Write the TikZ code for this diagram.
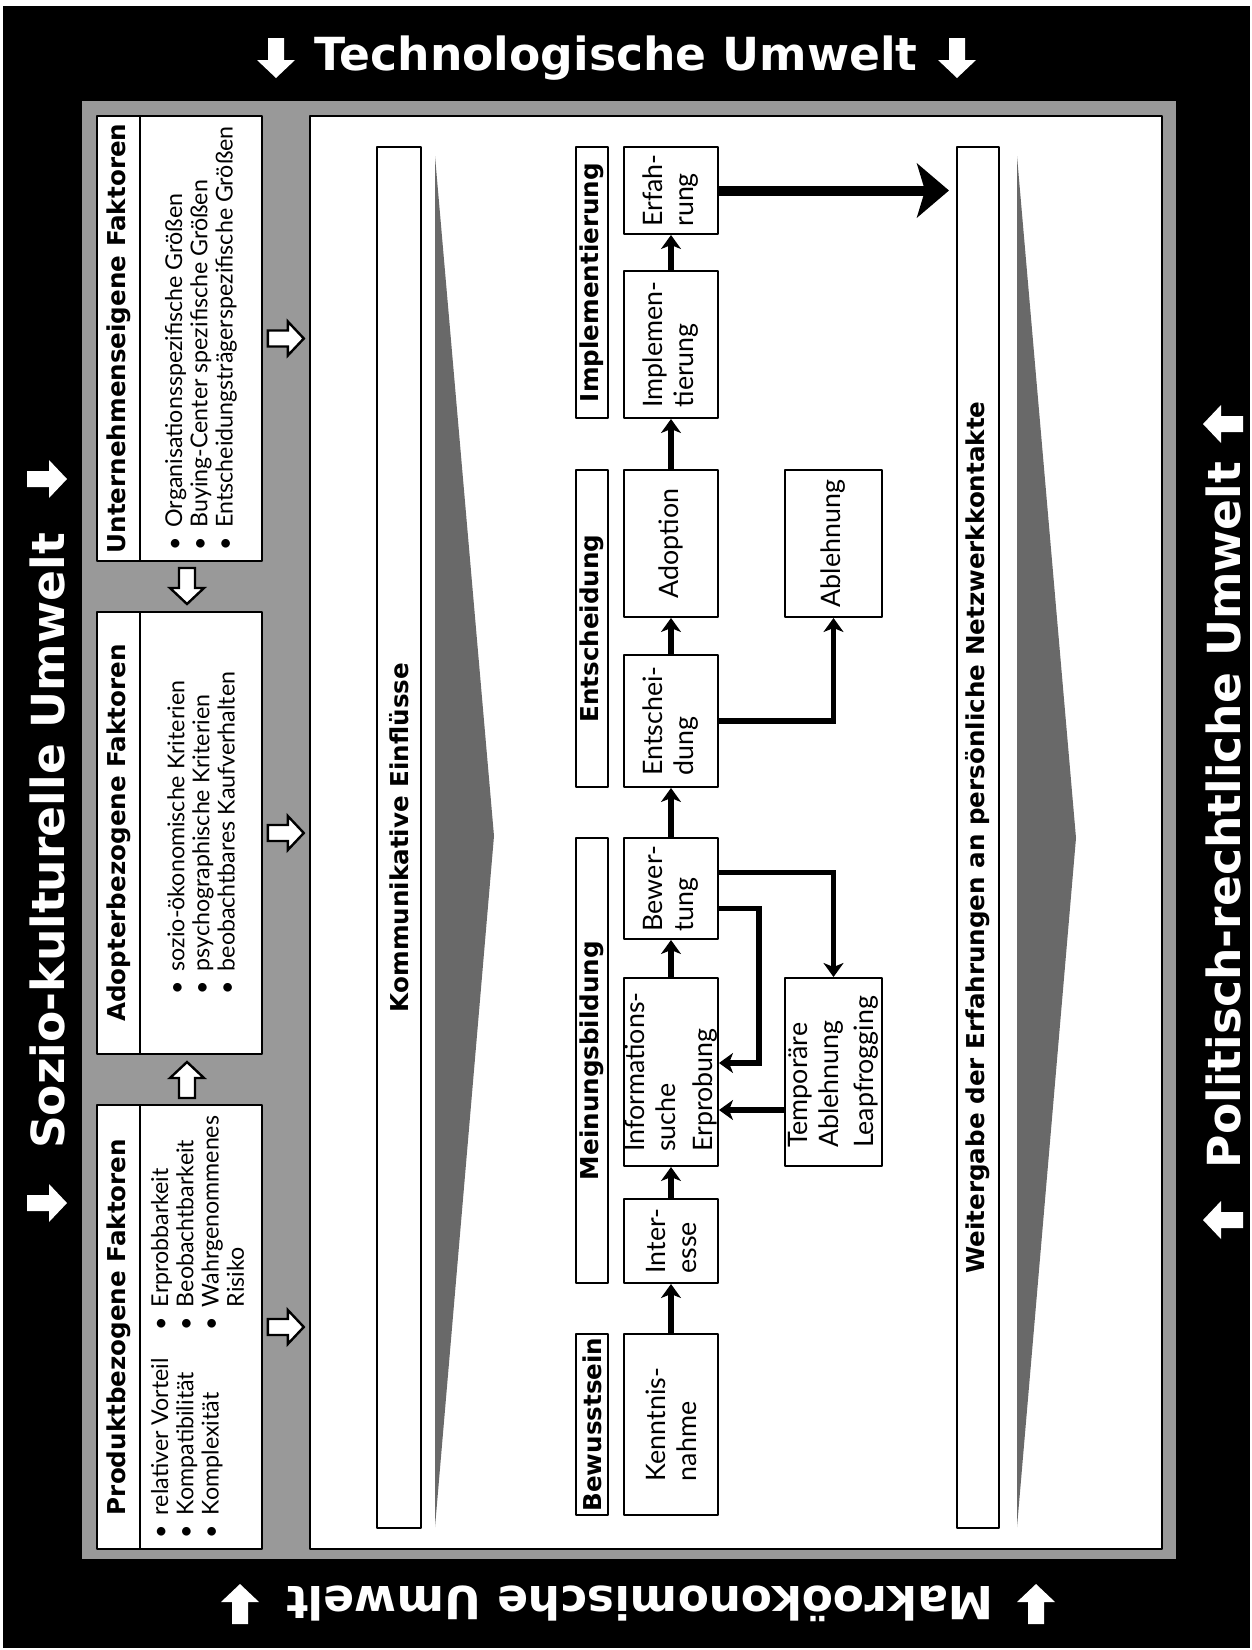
\documentclass[tikz,border=0pt]{standalone}
\usepackage{fontspec}
\setmainfont{Lato}
\newfontfamily\headfont{DejaVu Sans}
\usetikzlibrary{arrows.meta,fit,calc}

\definecolor{panelgray}{RGB}{153,153,153}
\definecolor{wedgegray}{RGB}{105,105,105}

\newcommand{\itm}{\makebox[1em][l]{\textbullet}}

\tikzset{
  openarrow/.pic={\draw[line width=1.2pt,fill=white,line join=miter]
    (-18,-8)--(2,-8)--(2,-17)--(18,0)--(2,17)--(2,8)--(-18,8)--cycle;},
  whitearrow/.pic={\fill[white]
    (-20,-8)--(2,-8)--(2,-19)--(20,0)--(2,19)--(2,8)--(-20,8)--cycle;},
}

\begin{document}
\begin{tikzpicture}[x=0.5pt,y=-0.5pt,line join=round,
  box/.style={draw,line width=1pt,fill=white,inner sep=0pt},
  vtext/.style={rotate=90,inner sep=0pt,align=left},
  headtext/.style={vtext,font=\headfont\bfseries\fontsize{12.3}{14}\selectfont},
  steptext/.style={vtext,font=\fontsize{13.4}{15.5}\selectfont},
  listtext/.style={vtext,font=\fontsize{11.6}{12.6}\selectfont},
  frametext/.style={inner sep=0pt,text=white,font=\headfont\bfseries\fontsize{22.8}{27}\selectfont},
  flow/.style={line width=2.6pt,line join=miter,-{Stealth[length=7pt,width=10pt,inset=2pt]}},
  bigflow/.style={line width=5pt,-{Stealth[length=16pt,width=27pt,inset=4pt]}}]
\useasboundingbox (0,0) rectangle (1252,1650);
\fill[black] (3,6) rectangle (1250,1648);
\fill[panelgray] (82,101) rectangle (1176,1559);

% Umwelten
\node[frametext] (technik) at (616,58) {Technologische Umwelt};
\node[frametext,rotate=90] (sozio) at (47,841) {Sozio-kulturelle Umwelt};
\node[frametext,rotate=90] (politik) at (1223,815) {Politisch-rechtliche Umwelt};
\node[frametext,rotate=180] (makro) at (640,1604) {Makroökonomische Umwelt};
\pic[rotate=-90] at (276,58) {whitearrow};
\pic[rotate=-90] at (957,58) {whitearrow};
\pic at (47,479) {whitearrow};
\pic at (47,1203) {whitearrow};
\pic[rotate=180] at (1223,424) {whitearrow};
\pic[rotate=180] at (1223,1220) {whitearrow};
\pic[rotate=90] at (240,1604) {whitearrow};
\pic[rotate=90] at (1036,1604) {whitearrow};

% Einflussfaktoren
\node[box,fit={(97,116) (140,561)}] (untern-head) {};
\node[box,fit={(140,116) (262,561)}] (untern) {};
\node[headtext] (untern-title) at (untern-head) {Unternehmenseigene Faktoren};
\node[listtext] (untern-list) at (untern) {\itm Organisationsspezifische Größen\\\itm Buying-Center spezifische Größen\\\itm Entscheidungsträgerspezifische Größen};
\node[box,fit={(97,612) (140,1054)}] (adopt-head) {};
\node[box,fit={(140,612) (262,1054)}] (adopt) {};
\node[headtext] (adopt-title) at (adopt-head) {Adopterbezogene Faktoren};
\node[listtext] (adopt-list) at (adopt) {\itm sozio-ökonomische Kriterien\\\itm psychographische Kriterien\\\itm beobachtbares Kaufverhalten};
\node[box,fit={(97,1105) (140,1549)}] (produkt-head) {};
\node[box,fit={(140,1105) (262,1549)}] (produkt) {};
\node[headtext] (produkt-title) at (produkt-head) {Produktbezogene Faktoren};
\node[listtext] (produkt-list) at (produkt) {\begin{tabular}{@{}l@{\hspace{14pt}}l@{}}
  \itm relativer Vorteil & \itm Erprobbarkeit\\
  \itm Kompatibilität & \itm Beobachtbarkeit\\
  \itm Komplexität & \itm Wahrgenommenes\\
  & \hspace{1em}Risiko\end{tabular}};
\pic[rotate=-90] at (187,586) {openarrow};
\pic[rotate=90] at (187,1080) {openarrow};

% Adoptionsprozess
\node[box,line width=1.4pt,fit={(310,116) (1162,1549)}] (panel) {};
\pic at ($(untern.east)!.5!(panel.west |- untern.east)$) {openarrow};
\pic at ($(adopt.east)!.5!(panel.west |- adopt.east)$) {openarrow};
\pic at ($(produkt.east)!.5!(panel.west |- produkt.east)$) {openarrow};

\node[box,fit={(377,147) (421,1528)}] (kommbar) {};
\node[headtext] (komm-title) at (kommbar) {Kommunikative Einflüsse};
\fill[wedgegray] (435,156) -- (494,836) -- (435,1527) -- cycle;
\node[box,fit={(957,147) (999,1528)}] (weiterbar) {};
\node[headtext] (weiter-title) at (weiterbar) {Weitergabe der Erfahrungen an persönliche Netzwerkkontakte};
\fill[wedgegray] (1017,156) -- (1076,838) -- (1017,1527) -- cycle;

\node[box,fit={(576,1334) (608,1515)}] (stage-bew) {};
\node[box,fit={(576,838) (608,1283)}] (stage-mein) {};
\node[box,fit={(576,470) (608,787)}] (stage-ent) {};
\node[box,fit={(576,147) (608,418)}] (stage-imp) {};
\node[headtext] (bew-title) at (stage-bew) {Bewusstsein};
\node[headtext] (mein-title) at (stage-mein) {Meinungsbildung};
\node[headtext] (ent-title) at (stage-ent) {Entscheidung};
\node[headtext] (imp-title) at (stage-imp) {Implementierung};

\node[box,fit={(624,1334) (718,1515)}] (kenntnis) {};
\node[box,fit={(624,1199) (718,1283)}] (interesse) {};
\node[box,fit={(624,978) (718,1166)}] (info) {};
\node[box,fit={(624,838) (718,939)}] (bewertung) {};
\node[box,fit={(624,655) (718,787)}] (entscheid) {};
\node[box,fit={(624,470) (718,617)}] (adoption) {};
\node[box,fit={(624,271) (718,418)}] (implem) {};
\node[box,fit={(624,147) (718,234)}] (erfahrung) {};
\node[box,fit={(785,470) (882,617)}] (ablehnung) {};
\node[box,fit={(785,978) (882,1166)}] (temporaer) {};
\node[steptext] (kenntnis-txt) at (kenntnis) {Kenntnis-\\nahme};
\node[steptext] (interesse-txt) at (interesse) {Inter-\\esse};
\node[steptext] (info-txt) at (info) {Informations-\\suche\\[3pt]Erprobung};
\node[steptext] (bewertung-txt) at (bewertung) {Bewer-\\tung};
\node[steptext] (entscheid-txt) at (entscheid) {Entschei-\\dung};
\node[steptext] (adoption-txt) at (adoption) {Adoption};
\node[steptext] (implem-txt) at (implem) {Implemen-\\tierung};
\node[steptext] (erfahrung-txt) at (erfahrung) {Erfah-\\rung};
\node[steptext] (ablehnung-txt) at (ablehnung) {Ablehnung};
\node[steptext] (temporaer-txt) at (temporaer) {Temporäre\\Ablehnung\\[2pt]Leapfrogging};

\draw[flow] (kenntnis) -- (interesse);
\draw[flow] (interesse) -- (info);
\draw[flow] (info) -- (bewertung);
\draw[flow] (bewertung) -- (entscheid);
\draw[flow] (entscheid) -- (adoption);
\draw[flow] (adoption) -- (implem);
\draw[flow] (implem) -- (erfahrung);
\draw[flow] (entscheid.east) -| (ablehnung);
\draw[flow] ([yshift=8pt]bewertung.east) -| (temporaer);
\draw[flow] ([yshift=-10pt]bewertung.east) -- ++(40,0) |- ([yshift=4.5pt]info.east);
\draw[flow] ([yshift=-19pt]temporaer.west) -- ([yshift=-19pt]info.east);
\draw[bigflow] (erfahrung.east) -- ([xshift=-3.5pt]weiterbar.west |- erfahrung.east);
\end{tikzpicture}
\end{document}
